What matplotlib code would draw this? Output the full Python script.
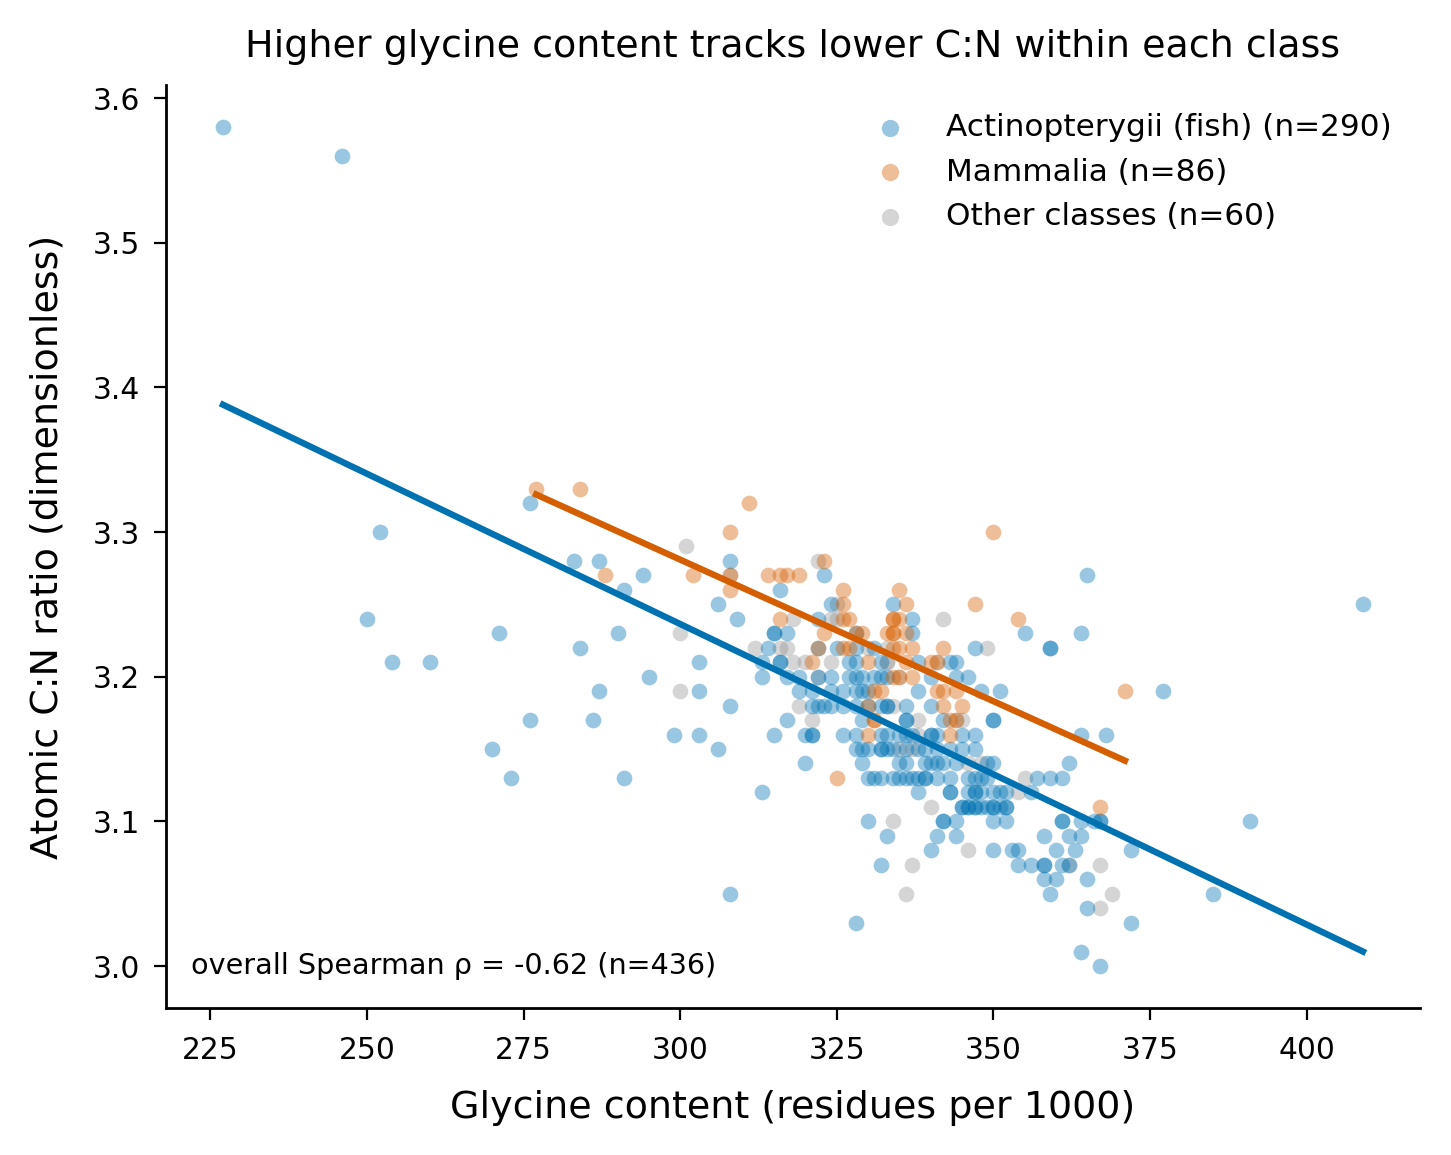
import numpy as np
from matplotlib import pyplot as plt

# glycine (residues per 1000), C:N ratio
fish_x = [227, 246, 276, 252, 283, 287, 294, 291, 250, 271, 290, 284, 254, 260, 303, 295, 287, 303,
          276, 286, 299, 303, 270, 273, 291,
          308, 306, 309, 316, 315, 315, 317, 314, 313, 316, 316, 313, 317, 319, 308, 317, 315, 306,
          313, 308,
          323, 324, 334, 322, 328, 322, 325, 328, 331, 327, 328, 332, 319, 322, 324, 327, 328, 329,
          331, 332, 333, 321, 324, 326, 328, 329, 330, 321, 322, 323, 324, 326, 328, 330, 332, 333,
          329, 320, 321, 321, 326, 328, 332, 333,
          328, 329, 330, 332, 332, 333, 320, 329, 330, 331, 332, 334, 330, 333, 332, 328,
          337, 337, 347, 338, 343, 344, 340, 344, 346, 338, 348, 333, 336, 340, 336, 336, 342, 335,
          336, 337, 340, 340, 341, 345, 347,
          334, 336, 338, 339, 341, 343, 345, 347,
          335, 336, 339, 340, 341, 342, 344,
          335, 336, 337, 338, 339, 339, 341, 343, 346, 347,
          338, 343, 343, 346, 347, 347,
          345, 345, 346, 346, 347, 347,
          342, 342, 344, 341, 344, 340,
          355, 359, 359, 351, 350, 350,
          349, 350, 362, 357, 359, 361, 348, 349,
          348, 350, 351, 352, 356,
          348, 349, 350, 350, 351, 352, 352,
          350, 352, 361, 361,
          358, 362, 364,
          350, 353, 354, 360, 363, 372,
          354, 356, 358, 358, 361, 362,
          358, 360, 365,
          359, 385,
          365, 409, 364, 377, 364, 368, 364, 366, 367, 367, 391, 372, 364, 367, 365]
fish_y = [3.58, 3.56, 3.32, 3.30, 3.28, 3.28, 3.27, 3.26, 3.24, 3.23, 3.23, 3.22, 3.21, 3.21, 3.21, 3.20, 3.19, 3.19,
          3.17, 3.17, 3.16, 3.16, 3.15, 3.13, 3.13,
          3.28, 3.25, 3.24, 3.26, 3.23, 3.23, 3.23, 3.22, 3.21, 3.21, 3.21, 3.20, 3.20, 3.19, 3.18, 3.17, 3.16, 3.15,
          3.12, 3.05,
          3.27, 3.25, 3.25, 3.24, 3.23, 3.22, 3.22, 3.22, 3.22, 3.21, 3.21, 3.21, 3.20, 3.20, 3.20, 3.20, 3.20, 3.20,
          3.20, 3.20, 3.20, 3.19, 3.19, 3.19, 3.19, 3.19, 3.19, 3.18, 3.18, 3.18, 3.18, 3.18, 3.18, 3.18, 3.18, 3.18,
          3.17, 3.16, 3.16, 3.16, 3.16, 3.16, 3.16, 3.16,
          3.15, 3.15, 3.15, 3.15, 3.15, 3.15, 3.14, 3.14, 3.13, 3.13, 3.13, 3.13, 3.10, 3.09, 3.07, 3.03,
          3.24, 3.23, 3.22, 3.21, 3.21, 3.21, 3.20, 3.20, 3.20, 3.19, 3.19, 3.18, 3.18, 3.18, 3.17, 3.17, 3.17, 3.16,
          3.16, 3.16, 3.16, 3.16, 3.16, 3.16, 3.16,
          3.15, 3.15, 3.15, 3.15, 3.15, 3.15, 3.15, 3.15,
          3.14, 3.14, 3.14, 3.14, 3.14, 3.14, 3.14,
          3.13, 3.13, 3.13, 3.13, 3.13, 3.13, 3.13, 3.13, 3.13, 3.13,
          3.12, 3.12, 3.12, 3.12, 3.12, 3.12,
          3.11, 3.11, 3.11, 3.11, 3.11, 3.11,
          3.10, 3.10, 3.10, 3.09, 3.09, 3.08,
          3.23, 3.22, 3.22, 3.19, 3.17, 3.17,
          3.14, 3.14, 3.14, 3.13, 3.13, 3.13, 3.13, 3.13,
          3.12, 3.12, 3.12, 3.12, 3.12,
          3.11, 3.11, 3.11, 3.11, 3.11, 3.11, 3.11,
          3.10, 3.10, 3.10, 3.10,
          3.09, 3.09, 3.09,
          3.08, 3.08, 3.08, 3.08, 3.08, 3.08,
          3.07, 3.07, 3.07, 3.07, 3.07, 3.07,
          3.06, 3.06, 3.06,
          3.05, 3.05,
          3.27, 3.25, 3.23, 3.19, 3.16, 3.16, 3.10, 3.10, 3.10, 3.10, 3.10, 3.03, 3.01, 3.00, 3.04]

mammal_x = [277, 284, 288, 302, 311, 308, 308, 308, 314, 316, 317, 319, 316, 323, 326, 326, 326, 327,
            334, 323, 328, 329, 334, 322, 326, 327, 321, 330, 331, 330, 331, 331, 330, 325,
            335, 336, 347, 334, 335, 333, 334, 336, 334, 335, 337, 342, 336, 340, 341, 334, 335, 337,
            332, 341, 342, 344, 342, 345, 343, 344, 343,
            350, 354, 371, 367]
mammal_y = [3.33, 3.33, 3.27, 3.27, 3.32, 3.30, 3.27, 3.26, 3.27, 3.27, 3.27, 3.27, 3.24, 3.28, 3.26, 3.25, 3.24, 3.24,
            3.24, 3.23, 3.23, 3.23, 3.23, 3.22, 3.22, 3.22, 3.21, 3.21, 3.19, 3.18, 3.17, 3.17, 3.16, 3.13,
            3.26, 3.25, 3.25, 3.24, 3.24, 3.23, 3.23, 3.23, 3.22, 3.22, 3.22, 3.22, 3.21, 3.21, 3.21, 3.20, 3.20, 3.20,
            3.19, 3.19, 3.19, 3.19, 3.18, 3.18, 3.17, 3.17, 3.16,
            3.30, 3.24, 3.19, 3.11]

other_x = [301, 300, 300, 308, 318, 312, 316, 317, 318, 319, 322, 325, 324, 325, 330, 333, 320, 324,
           333, 322, 321,
           342, 333, 341, 335, 334, 338, 344, 345, 338,
           334, 335, 337, 346, 340, 346, 337, 336,
           349, 355, 354, 348,
           362, 367, 369, 367]
other_y = [3.29, 3.23, 3.19, 3.27, 3.24, 3.22, 3.22, 3.22, 3.21, 3.18, 3.28, 3.25, 3.24, 3.24, 3.22, 3.22, 3.21, 3.21,
           3.21, 3.20, 3.17,
           3.24, 3.21, 3.21, 3.20, 3.18, 3.17, 3.17, 3.17, 3.16,
           3.10, 3.15, 3.15, 3.14, 3.11, 3.08, 3.07, 3.05,
           3.22, 3.13, 3.12, 3.14,
           3.07, 3.07, 3.05, 3.04]

# per-class linear fits (slope, intercept) and class sizes
fish_fit = (-0.002077, 3.8595)
mammal_fit = (-0.001957, 3.868)
class_n = [290, 86, 60]
labels = ["Actinopterygii (fish)", "Mammalia", "Other classes"]

BLUE = "#0072B2"
ORANGE = "#D55E00"
GREY = "#969696"

plt.rcParams.update({
    "axes.linewidth": 1.0,
    "xtick.major.size": 4.2,
    "ytick.major.size": 4.2,
    "xtick.major.pad": 6.0,
    "ytick.major.pad": 5.0,
})

fig = plt.figure(figsize=(7.255, 5.775), dpi=200)
ax = fig.add_axes([0.1144, 0.1273, 0.8642, 0.7991])

pts = dict(s=32, alpha=0.4, linewidths=0)
h_other = ax.scatter(other_x, other_y, color=GREY, zorder=2, **pts)
h_fish = ax.scatter(fish_x, fish_y, color=BLUE, zorder=2, **pts)
h_mam = ax.scatter(mammal_x, mammal_y, color=ORANGE, zorder=2, **pts)

for xs, (m, b), c in [(fish_x, fish_fit, BLUE), (mammal_x, mammal_fit, ORANGE)]:
    xx = np.array([min(xs), max(xs)])
    ax.plot(xx, m * xx + b, color=c, lw=2.3, zorder=3)

ax.legend([h_fish, h_mam, h_other],
          [f"{l} (n={n})" for l, n in zip(labels, class_n)],
          loc="upper right", frameon=False, fontsize=11.2, markerscale=1.1)

ax.text(0.02, 0.03, f"overall Spearman \u03c1 = -0.62 (n={sum(class_n)})",
        transform=ax.transAxes, fontsize=10.3, ha="left", va="bottom")

ax.set_xticks([225, 250, 275, 300, 325, 350, 375, 400])
ax.set_yticks([3.0, 3.1, 3.2, 3.3, 3.4, 3.5, 3.6])
ax.tick_params(labelsize=10.7)
ax.set_xlabel("Glycine content (residues per 1000)", fontsize=13.7, labelpad=9)
ax.set_ylabel("Atomic C:N ratio (dimensionless)", fontsize=13.7, labelpad=10)
ax.set_title("Higher glycine content tracks lower C:N within each class", fontsize=13.7, pad=10)
ax.spines["top"].set_visible(False)
ax.spines["right"].set_visible(False)

fig.savefig("out.png", dpi=200)
